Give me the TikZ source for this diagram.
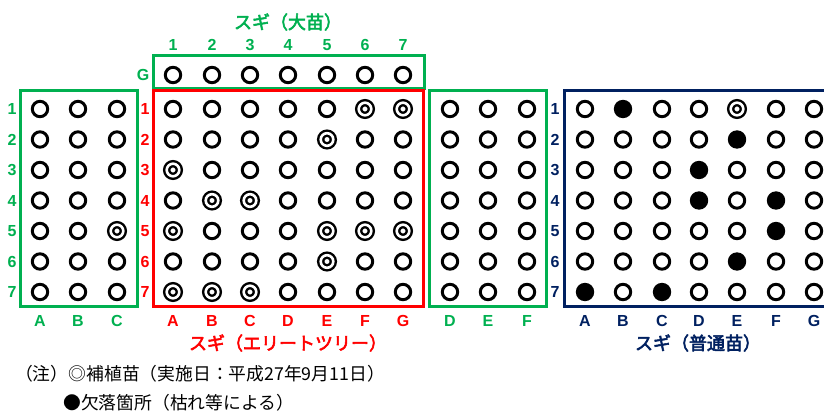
\documentclass[tikz,border=0pt]{standalone}
\usepackage{fontspec}
\setmainfont{Liberation Sans}
\newfontfamily\jp{Noto Sans CJK JP}
\newfontfamily\jpb[FakeBold=3]{Noto Sans CJK JP}
\definecolor{cg}{RGB}{0,176,80}
\definecolor{cr}{RGB}{255,0,0}
\definecolor{cn}{RGB}{0,32,96}
\def\setT#1#2{\expandafter\def\csname T#1\endcsname{#2}}
% special marks
\setT{LC5}{pd}
\setT{RF1}{pd}\setT{RG1}{pd}\setT{RE2}{pd}\setT{RA3}{pd}
\setT{RB4}{pd}\setT{RC4}{pd}\setT{RA5}{pd}\setT{RE5}{pd}
\setT{RF5}{pd}\setT{RG5}{pd}\setT{RE6}{pd}\setT{RA7}{pd}
\setT{RB7}{pd}\setT{RC7}{pd}
\setT{NB1}{pf}\setT{NE1}{pd}\setT{NE2}{pf}\setT{ND3}{pf}
\setT{ND4}{pf}\setT{NF4}{pf}\setT{NF5}{pf}\setT{NE6}{pf}
\setT{NA7}{pf}\setT{NC7}{pf}
\tikzset{
  po/.style={circle, draw=black, line width=3pt, minimum size=15.4pt, inner sep=0pt},
  pd/.style={circle, draw=black, double=white, double distance=2.6pt, line width=2.4pt, minimum size=12.6pt, inner sep=0pt},
  pf/.style={circle, fill=black, draw=none, minimum size=18.4pt, inner sep=0pt},
  tp/.code={\ifcsname T#1\endcsname\edef\tmpk{\csname T#1\endcsname}\else\def\tmpk{po}\fi
            \expandafter\pgfkeysalso\expandafter{\tmpk}},
  lbl/.style={font=\bfseries\fontsize{16}{16}\selectfont, inner sep=0pt},
  ttl/.style={font=\jpb\fontsize{18}{18}\selectfont, inner sep=0pt},
  note/.style={font=\jp\fontsize{17.8}{17.8}\selectfont, inner sep=0pt, anchor=west},
  box/.style={line width=3pt}
}
\begin{document}
\begin{tikzpicture}[x=1pt,y=-1pt]
\useasboundingbox (0,0) rectangle (824,414);
% boxes
\draw[box, cg] (153,56) rectangle (424,89);
\draw[box, cr] (153,91) rectangle (423,306);
\draw[box, cg] (20,91) rectangle (137,306);
\draw[box, cg] (429,91) rectangle (546,306);
\draw[box, cn] (824,91) -- (564,91) -- (564,306) -- (824,306);
% titles
\node[ttl, text=cg] (t1) at (288,22) {スギ（大苗）};
\node[ttl, text=cr] (t2) at (288,343) {スギ（エリートツリー）};
\node[ttl, text=cn] (t3) at (698,343) {スギ（普通苗）};
% G row
\node[lbl, text=cg] (gG) at (143,75) {G};
\foreach \n/\x in {1/173,2/212,3/250,4/288,5/327,6/365,7/403}{
  \node[lbl, text=cg] (gh\n) at (\x,45) {\n};
  \node[po] (G\n) at (\x,75) {};
}
% left green block
\foreach \c/\x in {A/40,B/78,C/117}{
  \node[lbl, text=cg] (Lc\c) at (\x,321) {\c};
  \foreach \r in {1,...,7}{
    \node[tp=L\c\r] (L\c\r) at (\x,{109+30.5*(\r-1)}) {};
  }
}
% red block
\foreach \c/\x in {A/173,B/212,C/250,D/288,E/327,F/365,G/403}{
  \node[lbl, text=cr] (Rc\c) at (\x,321) {\c};
  \foreach \r in {1,...,7}{
    \node[tp=R\c\r] (R\c\r) at (\x,{109+30.5*(\r-1)}) {};
  }
}
% right green block
\foreach \c/\x in {D/450,E/488,F/527}{
  \node[lbl, text=cg] (Mc\c) at (\x,321) {\c};
  \foreach \r in {1,...,7}{
    \node[tp=M\c\r] (M\c\r) at (\x,{109+30.5*(\r-1)}) {};
  }
}
% navy block
\foreach \c/\x in {A/585,B/623,C/662,D/699,E/737,F/776,G/814}{
  \node[lbl, text=cn] (Nc\c) at (\x,321) {\c};
  \foreach \r in {1,...,7}{
    \node[tp=N\c\r] (N\c\r) at (\x,{109+30.5*(\r-1)}) {};
  }
}
% row labels
\foreach \r in {1,...,7}{
  \node[lbl, text=cg] (Lr\r) at (12,{109+30.5*(\r-1)}) {\r};
  \node[lbl, text=cr] (Rr\r) at (145,{109+30.5*(\r-1)}) {\r};
  \node[lbl, text=cn] (Nr\r) at (555,{109+30.5*(\r-1)}) {\r};
}
% notes
\node[note] (n1) at (15,374) {（注）◎補植苗（実施日：平成27年9月11日）};
\node[note] (n2) at (63,403) {●欠落箇所（枯れ等による）};
\end{tikzpicture}
\end{document}
